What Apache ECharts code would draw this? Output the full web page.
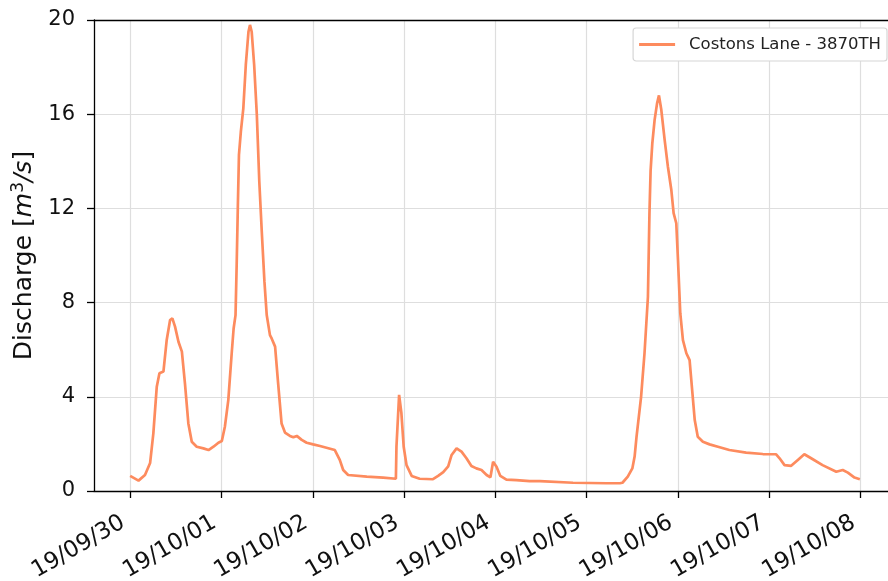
<!DOCTYPE html>
<html>
<head>
<meta charset="utf-8">
<script src="https://cdn.jsdelivr.net/npm/echarts@6/dist/echarts.min.js"></script>
<style>
  html, body { margin: 0; padding: 0; background: #fff; }
  #chart { width: 888px; height: 581px; }
</style>
</head>
<body>
<div id="chart"></div>
<script>
// Gauge: Costons Lane - 3870TH, discharge in m^3/s.
// Times are hours after 2019-09-30 00:00.
const seriesName = 'Costons Lane - 3870TH';
const hours = [
  0.0, 2.2, 3.9, 5.25, 6.1, 7.0, 7.7, 8.75, 9.6, 10.5, 11.1, 11.8, 12.7, 13.6, 14.4, 15.3, 16.2, 17.5,
  19.25, 20.6, 21.9, 23.2, 24.1, 24.9, 25.8, 26.7, 27.2, 27.7, 28.0, 28.3, 28.6, 29.1, 29.75, 30.4,
  31.1, 31.5, 31.95, 32.6, 33.3, 33.95, 34.6, 35.3, 35.9, 36.75, 37.2, 38.1, 38.9, 39.8, 40.7, 42.0,
  42.9, 43.8, 45.1, 46.4, 48.1, 49.9, 53.8, 54.3, 55.1, 56.0, 57.3, 62.2, 66.5, 69.85, 70.0, 70.7,
  71.3, 71.9, 72.65, 74.0, 76.1, 79.6, 80.95, 82.3, 83.6, 84.5, 85.8, 87.1, 88.4, 89.7, 91.0, 92.35,
  93.7, 94.7, 95.4, 96.3, 97.3, 98.9, 101.5, 105.0, 107.7, 116.4, 125.2, 128.7, 129.4, 130.8, 132.0,
  132.6, 133.1, 134.3, 135.2, 136.1, 136.5, 136.8, 137.25, 137.85, 138.5, 139.0, 139.6, 140.5, 141.35,
  142.25, 142.85, 143.55, 144.0, 144.6, 145.3, 146.2, 147.05, 147.5, 148.4, 149.2, 150.55, 152.3,
  154.5, 157.5, 161.9, 166.3, 169.8, 170.7, 172.0, 173.75, 175.5, 177.2, 179.0, 182.0, 185.6, 187.3,
  188.65, 190.4, 191.8
];
const discharge = [
  0.64, 0.44, 0.68, 1.19, 2.45, 4.43, 5.0, 5.07, 6.4, 7.26, 7.33, 6.98, 6.34, 5.92, 4.58, 2.87, 2.09, 1.88,
  1.81, 1.74, 1.88, 2.05, 2.12, 2.73, 3.86, 5.86, 6.9, 7.47, 9.6, 12.0, 14.27, 15.26, 16.25, 18.09,
  19.5, 19.79, 19.5, 18.09, 15.97, 13.13, 11.01, 8.89, 7.47, 6.62, 6.48, 6.13, 4.57, 2.87, 2.48, 2.34,
  2.28, 2.34, 2.17, 2.05, 1.98, 1.91, 1.74, 1.71, 1.32, 0.89, 0.68, 0.61, 0.57, 0.52, 1.88, 4.08,
  3.3, 1.88, 1.1, 0.64, 0.52, 0.5, 0.64, 0.8, 1.05, 1.53, 1.81, 1.67, 1.39, 1.06, 0.96, 0.89,
  0.68, 0.58, 1.24, 1.03, 0.64, 0.48, 0.46, 0.42, 0.42, 0.35, 0.33, 0.33, 0.35, 0.61, 0.96,
  1.46, 2.3, 4.0, 5.85, 8.25, 11.8, 13.6, 14.76, 15.75, 16.46, 16.8, 16.2, 14.9, 13.77,
  12.78, 11.8, 11.37, 9.8, 7.55, 6.41, 5.85, 5.56, 4.71, 3.01, 2.3, 2.09, 1.98,
  1.88, 1.74, 1.63, 1.57, 1.56, 1.39, 1.1, 1.07, 1.32, 1.56, 1.39, 1.1, 0.82, 0.89,
  0.78, 0.57, 0.5
];
// Daily ticks (hours) and their labels
const tickHours = [0, 24, 48, 72, 96, 120, 144, 168, 192];
const tickLabels = ['19/09/30', '19/10/01', '19/10/02', '19/10/03', '19/10/04',
                    '19/10/05', '19/10/06', '19/10/07', '19/10/08'];
const yTicks = [0, 4, 8, 12, 16, 20];

const FONT = 'DejaVu Sans';
const lineColor = '#fd8b5e';
const points = hours.map((h, i) => [h, discharge[i]]);
// Visible time window; the right part of the frame runs past the canvas edge
const xMin = -9.5;
const xMax = 199.2;

const chart = echarts.init(document.getElementById('chart'), null, { renderer: 'canvas' });
chart.setOption({
  animation: false,
  backgroundColor: '#fff',
  grid: { left: 94, right: 0, top: 20, bottom: 90, containLabel: false, outerBoundsMode: 'none' },
  legend: {
    show: true,
    right: 1, top: 28,
    data: [seriesName],
    icon: 'rect',
    itemWidth: 36, itemHeight: 3,
    padding: [8, 6, 8, 6],
    backgroundColor: '#fff',
    borderColor: '#d6d6d6', borderWidth: 1.2, borderRadius: 3,
    textStyle: { fontFamily: FONT, fontSize: 16.5, color: '#222', padding: [0, 0, 0, 9] }
  },
  xAxis: [{
    type: 'value',
    min: xMin, max: xMax,
    axisLine: { show: true, onZero: false, lineStyle: { color: '#000', width: 1.3 } },
    axisTick: { show: true, customValues: tickHours, length: 7, inside: false, lineStyle: { color: '#000', width: 1.3 } },
    axisLabel: {
      customValues: tickHours,
      rotate: 30,
      margin: 26,
      padding: [0, 8, 0, 0],
      fontFamily: FONT, fontSize: 23, color: '#111',
      formatter: (v) => tickLabels[tickHours.indexOf(Math.round(v))] || ''
    },
    splitLine: { show: true, lineStyle: { color: '#dedede', width: 1.2 } }
  }, {
    // top frame line
    type: 'value',
    position: 'top',
    min: xMin, max: xMax,
    axisLine: { show: true, onZero: false, lineStyle: { color: '#000', width: 1.3 } },
    axisTick: { show: false },
    axisLabel: { show: false },
    splitLine: { show: false }
  }],
  yAxis: {
    type: 'value',
    min: 0, max: 20, interval: 4,
    name: '{n|Discharge [}{i|m}{s|3}{i|/s}{n|]}',
    nameLocation: 'middle',
    nameRotate: 90,
    nameGap: 55,
    nameTextStyle: {
      rich: {
        n: { fontFamily: FONT, fontSize: 25, color: '#111' },
        i: { fontFamily: FONT, fontSize: 25, fontStyle: 'italic', color: '#111' },
        s: { fontFamily: FONT, fontSize: 17, color: '#111', padding: [0, 0, 12, 0] }
      }
    },
    axisLine: { show: true, onZero: false, lineStyle: { color: '#000', width: 1.3 } },
    axisTick: { show: true, length: 7, inside: false, lineStyle: { color: '#000', width: 1.3 } },
    axisLabel: {
      margin: 19, fontFamily: FONT, fontSize: 21, color: '#111',
      formatter: (v) => (yTicks.indexOf(v) >= 0 ? String(v) : '')
    },
    splitLine: { show: true, lineStyle: { color: '#dedede', width: 1.2 } }
  },
  series: [{
    name: seriesName,
    type: 'line',
    data: points,
    symbol: 'none',
    smooth: false,
    lineStyle: { color: lineColor, width: 2.7 },
    itemStyle: { color: lineColor },
    z: 3
  }]
});
</script>
</body>
</html>
